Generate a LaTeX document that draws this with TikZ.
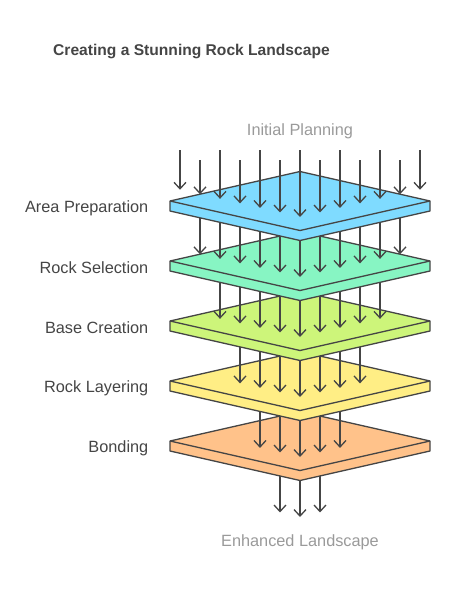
\documentclass[tikz,border=0pt]{standalone}
\usepackage{fontspec}
\setmainfont{Liberation Sans}
\usepackage{tikz}
\usetikzlibrary{arrows.meta}
\definecolor{lineC}{HTML}{454545}
\definecolor{softC}{HTML}{9A9A9A}
\definecolor{plBlue}{HTML}{7FDBFF}
\definecolor{plGreen}{HTML}{87F5C3}
\definecolor{plLime}{HTML}{CDF57A}
\definecolor{plYellow}{HTML}{FFEE85}
\definecolor{plOrange}{HTML}{FFC28A}
\tikzset{
  rplate/.style={draw=lineC,line width=1.3pt,line join=round},
  rflow/.style={lineC,line width=1.3pt,-{Straight Barb[length=6.5pt,width=12pt]}},
  rlabel/.style={anchor=east,inner sep=0pt,text=lineC,font=\fontsize{16.3}{19}\selectfont},
  rsoft/.style={inner sep=0pt,text=softC,font=\fontsize{16.3}{19}\selectfont},
  rtitle/.style={anchor=west,inner sep=0pt,text=lineC,font=\bfseries\fontsize{15.6}{19}\selectfont},
}
% plate: centre y, colour
\newcommand{\rockplate}[2]{%
  \filldraw[rplate,fill=#2] (170,#1) -- (170,#1+10) -- (300,#1+39.5) -- (430,#1+10)
    -- (430,#1) -- (300,#1-29.5) -- cycle;
  \draw[rplate] (170,#1) -- (300,#1+29.5) -- (430,#1);
}
% arrows into a plate: target centre y, half count, start y
\newcommand{\rockflow}[3]{%
  \pgfmathtruncatemacro\rn{2*#2+1}
  \foreach \k in {1,...,\rn}{
    \pgfmathsetmacro\dx{20*(\k-#2-1)}
    \pgfmathsetmacro\tipy{#1+16-0.227*abs(\dx)}
    \draw[rflow] (300+\dx,#3) -- (300+\dx,\tipy);
  }
}
\begin{document}
\begin{tikzpicture}[x=1pt,y=-1pt]
\useasboundingbox (0,0) rectangle (452,592);
\node[rtitle] (title) at (53,51) {Creating a Stunning Rock Landscape};
\node[rsoft] (start) at (300,131) {Initial Planning};
\node[rsoft] (finish) at (300,542) {Enhanced Landscape};
% layers, bottom one first
\foreach \cy/\hn/\col in {441/1/plOrange,381/2/plYellow,321/3/plLime,261/4/plGreen,201/5/plBlue}{
  \rockflow{\cy+60}{\hn}{\cy}
  \rockplate{\cy}{\col}
}
% incoming arrows from the top
\foreach \k in {-6,...,6}{
  \pgfmathsetmacro\sty{mod(abs(\k),2)==1 ? 160 : 150}
  \pgfmathsetmacro\tipy{217-0.227*abs(20*\k)}
  \draw[rflow] (300+20*\k,\sty) -- (300+20*\k,\tipy);
}
\node[rlabel] (prep) at (148.5,208) {Area Preparation};
\node[rlabel] (select) at (148.5,268) {Rock Selection};
\node[rlabel] (base) at (148.5,328) {Base Creation};
\node[rlabel] (layer) at (148.5,388) {Rock Layering};
\node[rlabel] (bond) at (148.5,448) {Bonding};
\end{tikzpicture}
\end{document}
